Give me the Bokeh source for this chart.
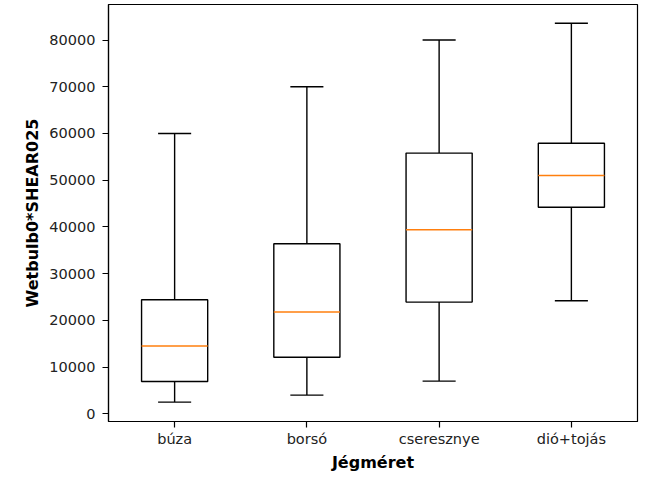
from bokeh.plotting import figure
from bokeh.models import ColumnDataSource, FixedTicker, Range1d
from bokeh.embed import file_html
from bokeh.resources import INLINE

categories = ["búza", "borsó", "cseresznye", "dió+tojás"]
whisker_low = [2500, 4000, 7000, 24200]
q1 = [6900, 12100, 23900, 44200]
median = [14500, 21800, 39400, 51000]
q3 = [24400, 36400, 55800, 57900]
whisker_high = [60000, 70000, 80000, 83600]
y_ticks = [0, 10000, 20000, 30000, 40000, 50000, 60000, 70000, 80000]

pos = list(range(1, len(categories) + 1))
box_w = 0.5
cap_w = 0.25

src = ColumnDataSource(dict(
    x=pos,
    left=[p - box_w / 2 for p in pos],
    right=[p + box_w / 2 for p in pos],
    cl=[p - cap_w / 2 for p in pos],
    cr=[p + cap_w / 2 for p in pos],
    lo=whisker_low, q1=q1, med=median, q3=q3, hi=whisker_high,
))

p = figure(width=654, height=477, output_backend="svg", toolbar_location=None,
           x_range=Range1d(0.5, 4.5), y_range=Range1d(-1650, 87600),
           min_border_left=108, min_border_right=17, min_border_top=4,
           min_border_bottom=56)

lw = 1.4
col = "black"
p.segment(x0="x", y0="lo", x1="x", y1="q1", source=src, line_color=col, line_width=lw)
p.segment(x0="x", y0="q3", x1="x", y1="hi", source=src, line_color=col, line_width=lw)
p.segment(x0="cl", y0="lo", x1="cr", y1="lo", source=src, line_color=col, line_width=lw)
p.segment(x0="cl", y0="hi", x1="cr", y1="hi", source=src, line_color=col, line_width=lw)
p.quad(left="left", right="right", bottom="q1", top="q3", source=src,
       fill_color=None, line_color=col, line_width=lw)
p.segment(x0="left", y0="med", x1="right", y1="med", source=src,
          line_color="#ff7f0e", line_width=lw)

p.xgrid.visible = False
p.ygrid.visible = False
p.outline_line_color = "black"
p.outline_line_width = 1.2
p.background_fill_color = "white"
p.border_fill_color = "white"

p.xaxis.ticker = FixedTicker(ticks=pos)
p.xaxis.major_label_overrides = {pp: c for pp, c in zip(pos, categories)}
p.yaxis.ticker = FixedTicker(ticks=y_ticks)

for ax in (p.xaxis, p.yaxis):
    ax.minor_tick_line_color = None
    ax.major_tick_in = 0
    ax.major_tick_out = 6
    ax.major_tick_line_color = "black"
    ax.major_tick_line_width = 1.2
    ax.axis_line_color = "black"
    ax.axis_line_width = 1.2
    ax.major_label_text_font = "DejaVu Sans"
    ax.major_label_text_font_size = "14.5px"
    ax.major_label_text_color = "#222222"
    ax.axis_label_text_font = "DejaVu Sans"
    ax.axis_label_text_font_size = "16px"
    ax.axis_label_text_font_style = "bold"
    ax.axis_label_text_color = "black"

p.xaxis.axis_label = "Jégméret"
p.yaxis.axis_label = "Wetbulb0*SHEAR025"
p.xaxis.major_label_standoff = 3
p.xaxis.axis_label_standoff = 3
p.yaxis.major_label_standoff = 7
p.yaxis.axis_label_standoff = 4

open("out.html", "w").write(file_html(p, INLINE))
